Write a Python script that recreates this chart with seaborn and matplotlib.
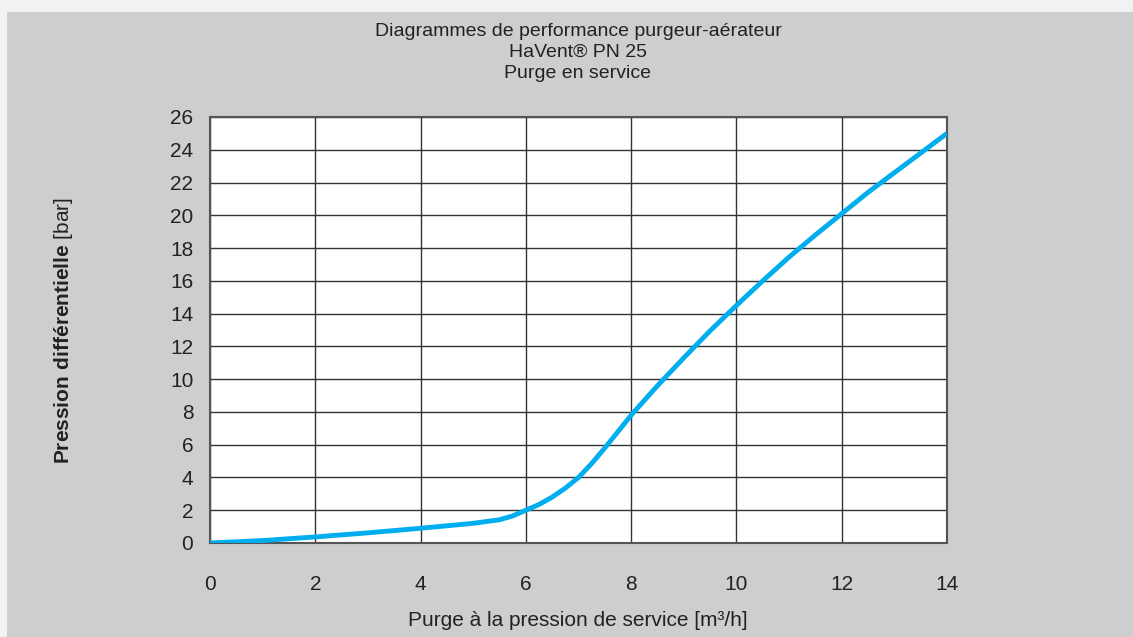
import matplotlib
matplotlib.use('Agg')
import matplotlib.pyplot as plt
import matplotlib.patches as mpatches
import seaborn as sns
import pandas as pd

purge = [0, 1, 2, 3, 4, 5, 5.5, 5.75, 6, 6.25, 6.5, 6.75, 7, 7.25, 7.5, 8, 8.5, 9,
         9.5, 10, 10.5, 11, 11.5, 12, 12.5, 13, 13.5, 14]
pression = [0, 0.15, 0.37, 0.62, 0.9, 1.2, 1.42, 1.65, 2.0, 2.35, 2.8, 3.35, 4.0, 4.85,
            5.8, 7.8, 9.6, 11.3, 12.95, 14.5, 16.0, 17.45, 18.8, 20.1, 21.4, 22.6, 23.8, 25.0]

x_ticks = list(range(0, 15, 2))
y_ticks = list(range(0, 27, 2))

df = pd.DataFrame({'purge': purge, 'pression': pression})

sns.set_style('white')
plt.rcParams['font.family'] = ['Liberation Sans', 'DejaVu Sans']
plt.rcParams['mathtext.fontset'] = 'custom'
plt.rcParams['mathtext.rm'] = 'Liberation Sans'
plt.rcParams['mathtext.bf'] = 'Liberation Sans:bold'

BG_LIGHT = '#f1f2f4'
BG_PANEL = '#cdced0'
LINE = '#00aeef'
TXT = '#222222'

fig = plt.figure(figsize=(11.33, 6.37), dpi=100)
fig.patch.set_facecolor(BG_LIGHT)
# gray panel (starts at x=7px, y=12px from top)
fig.patches.append(mpatches.Rectangle((7 / 1133, 0), 1, 1 - 12 / 637,
                                      transform=fig.transFigure, facecolor=BG_PANEL,
                                      edgecolor='none', zorder=-10))

ax = fig.add_axes([210 / 1133, 1 - 543 / 637, (947 - 210) / 1133, (543 - 117) / 637])
ax.set_zorder(5)
ax.set_facecolor('white')

sns.lineplot(data=df, x='purge', y='pression', color=LINE, linewidth=3.5, ax=ax,
             zorder=3, solid_capstyle='butt')

ax.set_xlim(0, 14)
ax.set_ylim(0, 26)
ax.set_xticks(x_ticks)
ax.set_yticks(y_ticks)
ax.tick_params(axis='both', labelsize=15, colors=TXT, length=0)
ax.tick_params(axis='x', pad=23)
ax.tick_params(axis='y', pad=12)
ax.grid(True, color='#333333', linewidth=1.0)
ax.set_axisbelow(True)
for sp in ax.spines.values():
    sp.set_color('#555555')
    sp.set_linewidth(1.5)

ax.set_xlabel('')
ax.set_ylabel('')

fig.text(578 / 1133, 1 - 31 / 637, 'Diagrammes de performance purgeur-aérateur',
         ha='center', va='center', fontsize=14, color=TXT)
fig.text(578 / 1133, 1 - 52 / 637, 'HaVent® PN 25',
         ha='center', va='center', fontsize=14, color=TXT)
fig.text(578 / 1133, 1 - 73 / 637, 'Purge en service',
         ha='center', va='center', fontsize=14, color=TXT)

fig.text(578 / 1133, 1 - 620 / 637, 'Purge à la pression de service [m³/h]',
         ha='center', va='center', fontsize=15, color=TXT)
fig.text(64 / 1133, 1 - 330 / 637, r'$\bf{Pression\ différentielle}$ [bar]',
         ha='center', va='center', rotation=90, fontsize=15, color=TXT)

fig.savefig('out.png', dpi=100, facecolor=fig.get_facecolor())
